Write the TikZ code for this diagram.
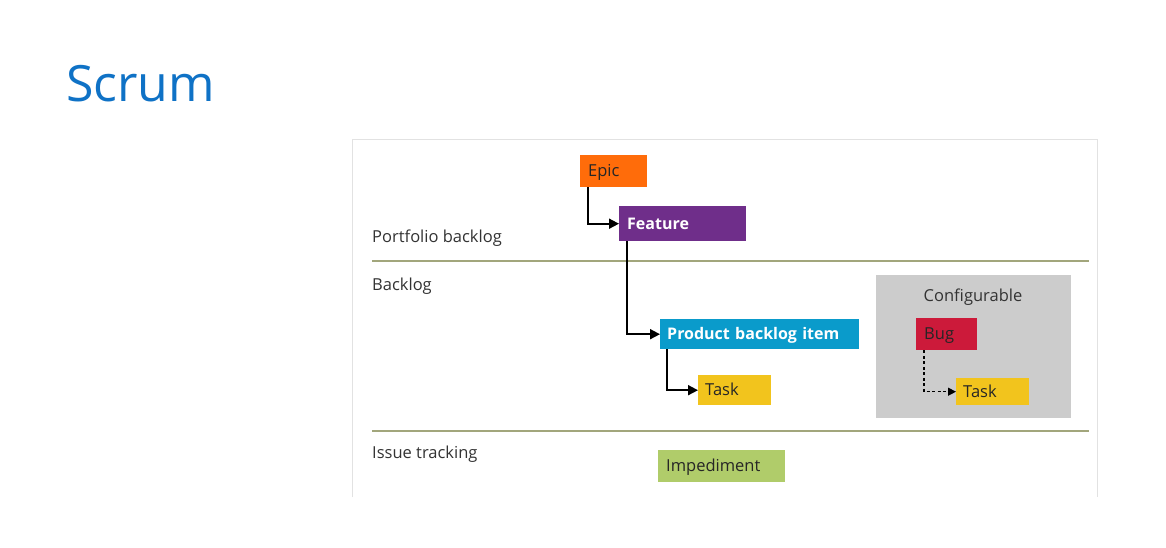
\documentclass[tikz,border=0pt]{standalone}
\usepackage{fontspec}
\setmainfont{Open Sans}
\usetikzlibrary{arrows.meta,calc}
\definecolor{titleblue}{HTML}{0F72C6}
\definecolor{rulegreen}{HTML}{A2A67C}
\definecolor{framegray}{HTML}{E2E2E2}
\definecolor{labelgray}{HTML}{333333}
\definecolor{epicorange}{HTML}{FF6C0A}
\definecolor{featurepurple}{HTML}{6F2E8A}
\definecolor{pbiblue}{HTML}{0A9BCB}
\definecolor{taskyellow}{HTML}{F2C41D}
\definecolor{bugred}{HTML}{CC1A3A}
\definecolor{impgreen}{HTML}{B0CC6A}
\definecolor{configgray}{HTML}{CCCCCC}
\tikzset{
  wibox/.style={rectangle, anchor=north west, inner xsep=8pt, inner ysep=0pt,
    minimum height=#1, align=left, text height=14pt, text depth=2.5pt,
    font=\fontsize{16.5}{18}\selectfont},
  darktext/.style={text=black!85},
  lighttext/.style={text=white, font=\fontsize{16}{18}\selectfont\bfseries},
  lanelabel/.style={anchor=west, inner sep=0pt, text=labelgray, font=\fontsize{16.5}{18}\selectfont},
  link/.style={draw=black, line width=1.7pt, -{Triangle[length=10pt,width=10pt]}},
  lanerule/.style={draw=rulegreen, line width=1.2pt},
}
\begin{document}
\begin{tikzpicture}[x=1pt,y=-1pt]
\useasboundingbox (0,0) rectangle (1166,548);
\fill[white] (0,0) rectangle (1166,548);

% title
\node[anchor=west, inner sep=0pt, text=titleblue, font=\fontsize{50}{56}\selectfont] (title) at (66,84) {Scrum};

% frame of the panel
\draw[framegray, line width=1pt] (352,497) -- (352,140) -- (1097,140) -- (1097,497);

% lane separators
\draw[lanerule] (372,261) -- (1089,261);
\draw[lanerule] (372,431) -- (1089,431);

% lane names
\node[lanelabel] (lpb) at (372,238) {Portfolio backlog};
\node[lanelabel] (lb) at (372,286) {Backlog};
\node[lanelabel] (lit) at (372,454) {Issue tracking};

% configurable area
\fill[configgray] (876,275) rectangle (1071,418);
\node[lanelabel, anchor=center] (conf) at (973,297) {Configurable};

% work item types
\node[wibox=32pt, darktext, fill=epicorange, text width=51pt] (epic) at (580,155) {Epic};
\node[wibox=35pt, lighttext, fill=featurepurple, text width=111pt] (feature) at (619,206) {Feature};
\node[wibox=30pt, lighttext, fill=pbiblue, text width=185pt, inner xsep=7pt] (pbi) at (660,319) {Product backlog item};
\node[wibox=30pt, darktext, fill=taskyellow, text width=59pt, inner xsep=7pt] (task) at (698,375) {Task};
\node[wibox=32pt, darktext, fill=bugred, text width=45pt] (bug) at (916,318) {Bug};
\node[wibox=27pt, darktext, fill=taskyellow, text width=59pt, inner xsep=7pt] (task2) at (956,378) {Task};
\node[wibox=32pt, darktext, fill=impgreen, text width=111pt] (imp) at (658,450) {Impediment};

% links
\draw[link] ([xshift=8pt]epic.south west) |- (feature.west);
\draw[link] ([xshift=8pt]feature.south west) |- (pbi.west);
\draw[link] ([xshift=7pt]pbi.south west) |- (task.west);
\draw[link, line width=1.3pt, dash pattern=on 3pt off 2.5pt, -{Triangle[length=8pt,width=8pt]}] ([xshift=8pt]bug.south west) |- (task2.west);
\end{tikzpicture}
\end{document}
